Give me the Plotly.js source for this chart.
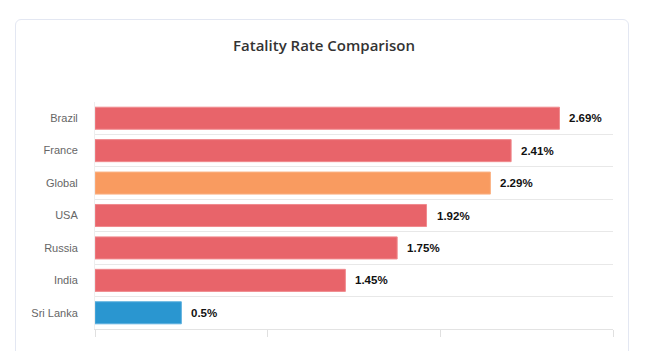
<!DOCTYPE html>
<html>
<head>
<meta charset="utf-8">
<script src="https://cdn.plot.ly/plotly-3.0.1.min.js"></script>
<style>
  html, body { margin: 0; padding: 0; background: #fff; overflow: hidden; }
  #card {
    position: absolute; left: 15px; top: 19px; width: 614px; height: 400px;
    border: 1px solid #e3e7f2; border-radius: 6px; box-sizing: border-box;
  }
  #chart { position: absolute; left: 0; top: 0; width: 648px; height: 351px; }
</style>
</head>
<body>
<div id="card"></div>
<div id="chart"></div>
<script>
  const countries = ["Brazil", "France", "Global", "USA", "Russia", "India", "Sri Lanka"];
  const rates = [2.69, 2.41, 2.29, 1.92, 1.75, 1.45, 0.5];
  const barColors = ["#e8646a", "#e8646a", "#f99b60", "#e8646a", "#e8646a", "#e8646a", "#2a96d0"];
  const edgeColors = ["#f08a8e", "#f08a8e", "#fbb285", "#f08a8e", "#f08a8e", "#f08a8e", "#5cb0de"];
  const xTicks = [0, 1, 2, 3];

  const trace = {
    type: "bar",
    orientation: "h",
    x: rates,
    y: countries,
    marker: { color: barColors, line: { color: edgeColors, width: 1 } },
    hoverinfo: "x+y"
  };

  const labels = rates.map((v, i) => ({
    x: v,
    y: countries[i],
    text: v + "%",
    xanchor: "left",
    xshift: 8,
    showarrow: false,
    font: { family: "Arial, sans-serif", size: 11.5, color: "#111", weight: "bold" }
  }));

  const layout = {
    width: 648,
    height: 351,
    paper_bgcolor: "rgba(0,0,0,0)",
    plot_bgcolor: "rgba(0,0,0,0)",
    margin: { l: 95, r: 35, t: 102, b: 22 },
    title: {
      text: "Fatality Rate Comparison",
      x: 0.5,
      xanchor: "center",
      y: 1 - 46 / 351,
      yanchor: "middle",
      font: { family: "Open Sans, sans-serif", size: 15, color: "#333", weight: 600 }
    },
    bargap: 0.32,
    showlegend: false,
    xaxis: {
      range: [0, 3],
      tickvals: xTicks,
      showticklabels: false,
      showgrid: false,
      zeroline: false,
      ticks: "outside",
      ticklen: 7,
      tickcolor: "#e0e0e0",
      showline: true,
      linecolor: "#e3e3e3",
      linewidth: 1
    },
    yaxis: {
      autorange: "reversed",
      tickson: "boundaries",
      showgrid: true,
      gridcolor: "#e8e8e8",
      gridwidth: 1,
      ticks: "",
      showline: true,
      linecolor: "#eeeeee",
      ticklabelstandoff: 14,
      tickfont: { family: "Arial, sans-serif", size: 11, color: "#666" }
    },
    annotations: labels
  };

  Plotly.newPlot("chart", [trace], layout, { displayModeBar: false, staticPlot: true });
</script>
</body>
</html>
